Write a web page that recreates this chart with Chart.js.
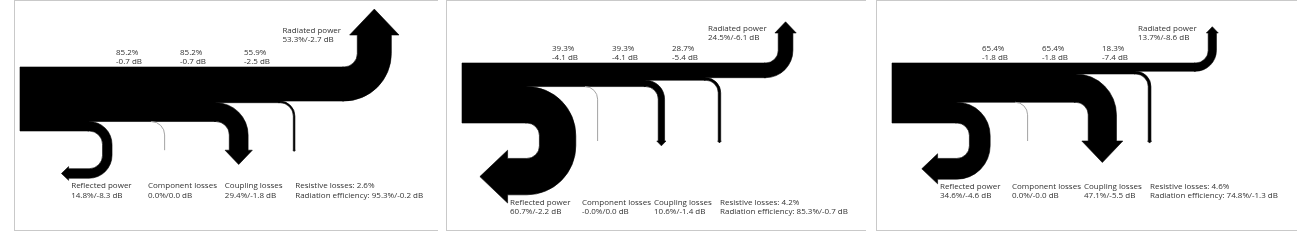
<!DOCTYPE html>
<html>
<head>
<meta charset="utf-8">
<script src="https://cdn.jsdelivr.net/npm/chart.js@4.4.1/dist/chart.umd.min.js"></script>
<style>
  body { margin: 0; background: #fff; width: 1307px; height: 242px; overflow: hidden; }
  .panel { position: absolute; top: 0; border-left: 1px solid #c9c9c9; border-top: 1px solid #c9c9c9; border-bottom: 1px solid #c9c9c9; }
  canvas { display: block; }
</style>
</head>
<body>
<div class="panel" style="left:14px"><canvas id="chart1" width="423" height="229"></canvas></div>
<div class="panel" style="left:446px"><canvas id="chart2" width="419" height="229"></canvas></div>
<div class="panel" style="left:876px"><canvas id="chart3" width="420" height="229"></canvas></div>
<script>
// Power budget of the three cases, % of input power and dB (one entry per diagram)
const reflectedPct = [14.8, 60.7, 34.6];
const reflectedDb = [-8.3, -2.2, -4.6];
const componentPct = [0.0, -0.0, 0.0];
const componentDb = [0.0, 0.0, -0.0];
const couplingPct = [29.4, 10.6, 47.1];
const couplingDb = [-1.8, -1.4, -5.5];
const resistivePct = [2.6, 4.2, 4.6];
const radiatedPct = [53.3, 24.5, 13.7];
const radiatedDb = [-2.7, -6.1, -8.6];
const efficiencyPct = [95.3, 85.3, 74.8];
const efficiencyDb = [-0.2, -0.7, -1.3];
// power still in the main path after reflected / component / coupling losses
const remainingPct = [[85.2, 85.2, 55.9], [39.3, 39.3, 28.7], [65.4, 65.4, 18.3]];
const remainingDb = [[-0.7, -0.7, -2.5], [-4.1, -4.1, -5.4], [-1.8, -1.8, -7.4]];

// Layout, in units of the input trunk width
const shape = {
  branchX: [1.08, 2.05, 3.06, 4.06, 5.06], // reflected, component, coupling, resistive, radiated
  radius: 0.21,
  dropTo: -1.3,   // arrow base of the loss branches
  uDrop: 0.17,    // straight part of the reflected U-turn
  uRun: 0.32,     // straight run back to the left
  riseTo: 0.5,    // arrow base of radiated power
  head: 1.45,     // arrow head width / band width
  pitch: 1.05,    // arrow tip length / half head width
  topLabelX: [1.5, 2.5, 3.5],
  bottomLabelX: [0.8, 2.0, 3.2, 4.3],
  radLabelX: 4.1,
  radLabelY: 0.42
};
// visible range of each diagram
const viewX = [[-0.078, 6.531], [-0.25, 6.733], [-0.25, 6.75]];
const viewY = [[-2.547, 1.031], [-2.783, 1.033], [-2.783, 1.033]];

function f1(v) {
  return (Object.is(v, -0) ? '-' : '') + v.toFixed(1);
}

const sankeyArrows = {
  id: 'sankeyArrows',
  afterDatasetsDraw(chart, args, opts) {
    const i = opts.panel;
    const ctx = chart.ctx;
    const sx = chart.scales.x, sy = chart.scales.y;
    const X = v => sx.getPixelForValue(v);
    const Y = v => sy.getPixelForValue(v);
    const kx = X(1) - X(0), ky = Y(0) - Y(1);
    const R = shape.radius;
    const e = 1.5 / kx; // small overlap so that joined pieces show no seam
    const moveTo = (x, y) => ctx.moveTo(X(x), Y(y));
    const lineTo = (x, y) => ctx.lineTo(X(x), Y(y));
    const arc = (cx, cy, r, a0, a1, ccw) => ctx.ellipse(X(cx), Y(cy), r * kx, r * ky, 0, a0, a1, ccw);
    const H = Math.PI / 2;

    const finish = () => {
      ctx.closePath();
      ctx.fillStyle = '#000';
      ctx.fill();
      ctx.strokeStyle = '#000';
      ctx.lineWidth = 0.6;
      ctx.stroke();
    };

    // branch leaving the bottom of the trunk and turning down
    const down = (xs, b, w) => {
      const h = w * shape.head / 2, cx = xs + R + w / 2, y0 = shape.dropTo;
      ctx.beginPath();
      if (w < 0.005) {
        moveTo(xs, b);
        arc(xs, b - R, R, -H, 0, false);
        lineTo(xs + R, y0);
        ctx.strokeStyle = '#a3a3a3';
        ctx.lineWidth = 1;
        ctx.stroke();
        return;
      }
      moveTo(xs - e, b + w);
      arc(xs, b - R, R + w, -H, 0, false);
      lineTo(xs + R + w, y0);
      lineTo(cx + h, y0);
      lineTo(cx, y0 - h * shape.pitch);
      lineTo(cx - h, y0);
      lineTo(xs + R, y0);
      lineTo(xs + R, b - R);
      arc(xs, b - R, R, 0, -H, true);
      lineTo(xs - e, b);
      finish();
    };

    // reflected power: down and back to the left
    const uturn = (xs, b, w) => {
      const D = shape.uDrop, S = shape.uRun;
      const c2 = b - R - D;
      const yin = c2 - R, yout = c2 - R - w, yc = c2 - R - w / 2;
      const h = w * shape.head / 2;
      ctx.beginPath();
      moveTo(xs - e, b + w);
      arc(xs, b - R, R + w, -H, 0, false);
      lineTo(xs + R + w, c2);
      arc(xs, c2, R + w, 0, H, false);
      lineTo(xs - S, yout);
      lineTo(xs - S, yc - h);
      lineTo(xs - S - h * shape.pitch, yc);
      lineTo(xs - S, yc + h);
      lineTo(xs - S, yin);
      lineTo(xs, yin);
      arc(xs, c2, R, H, 0, true);
      lineTo(xs + R, b - R);
      arc(xs, b - R, R, 0, -H, true);
      lineTo(xs - e, b);
      finish();
    };

    // radiated power: remaining band turning up
    const up = (xs, w) => {
      const h = w * shape.head / 2, cx = xs + R + w / 2, y0 = shape.riseTo;
      ctx.beginPath();
      moveTo(xs - e, 0);
      arc(xs, R, R, H, 0, true);
      lineTo(xs + R, y0);
      lineTo(cx - h, y0);
      lineTo(cx, y0 + h * shape.pitch);
      lineTo(cx + h, y0);
      lineTo(xs + R + w, y0);
      lineTo(xs + R + w, R);
      arc(xs, R, R + w, 0, H, false);
      lineTo(xs - e, -w);
      finish();
    };

    ctx.save();
    const widths = [reflectedPct[i], componentPct[i], couplingPct[i], resistivePct[i]].map(v => Math.max(0, v) / 100);
    const bx = shape.branchX;

    // trunk as one stepped outline
    const bottoms = [];
    let b = -1;
    widths.forEach(w => { bottoms.push(b); b += w; });
    ctx.beginPath();
    moveTo(0, 0);
    lineTo(bx[4], 0);
    lineTo(bx[4], b);
    for (let k = 3; k >= 0; k--) {
      lineTo(bx[k], bottoms[k] + widths[k]);
      lineTo(bx[k], bottoms[k]);
    }
    lineTo(0, -1);
    finish();

    widths.forEach((w, k) => {
      if (k === 0) uturn(bx[k], bottoms[k], w); else down(bx[k], bottoms[k], w);
    });
    up(bx[4], -b);

    // labels
    ctx.font = '8px "Open Sans"';
    ctx.fillStyle = '#333';
    ctx.textAlign = 'left';
    ctx.textBaseline = 'middle';
    const two = (x, y, a, c) => {
      ctx.fillText(a, x, y);
      ctx.fillText(c, x, y + 9.5);
    };
    shape.topLabelX.forEach((lx, j) => {
      two(X(lx), Y(0) - 14.5, f1(remainingPct[i][j]) + '%', f1(remainingDb[i][j]) + ' dB');
    });
    two(X(shape.radLabelX), Y(shape.radLabelY) - 9.5, 'Radiated power',
      f1(radiatedPct[i]) + '%/' + f1(radiatedDb[i]) + ' dB');
    const yb = Y(-1 - 2 * R - shape.uDrop - widths[0]) + 7.5;
    const bl = shape.bottomLabelX;
    two(X(bl[0]), yb, 'Reflected power', f1(reflectedPct[i]) + '%/' + f1(reflectedDb[i]) + ' dB');
    two(X(bl[1]), yb, 'Component losses', f1(componentPct[i]) + '%/' + f1(componentDb[i]) + ' dB');
    two(X(bl[2]), yb, 'Coupling losses', f1(couplingPct[i]) + '%/' + f1(couplingDb[i]) + ' dB');
    two(X(bl[3]), yb, 'Resistive losses: ' + f1(resistivePct[i]) + '%',
      'Radiation efficiency: ' + f1(efficiencyPct[i]) + '%/' + f1(efficiencyDb[i]) + ' dB');
    ctx.restore();
  }
};

['chart1', 'chart2', 'chart3'].forEach((id, i) => {
  new Chart(document.getElementById(id), {
    type: 'scatter',
    data: { datasets: [{ data: [], pointRadius: 0 }] },
    options: {
      responsive: false,
      animation: false,
      devicePixelRatio: 1,
      layout: { padding: 0 },
      scales: {
        x: { type: 'linear', min: viewX[i][0], max: viewX[i][1], display: false },
        y: { type: 'linear', min: viewY[i][0], max: viewY[i][1], display: false }
      },
      plugins: {
        legend: { display: false },
        tooltip: { enabled: false },
        sankeyArrows: { panel: i }
      }
    },
    plugins: [sankeyArrows]
  });
});
</script>
</body>
</html>
